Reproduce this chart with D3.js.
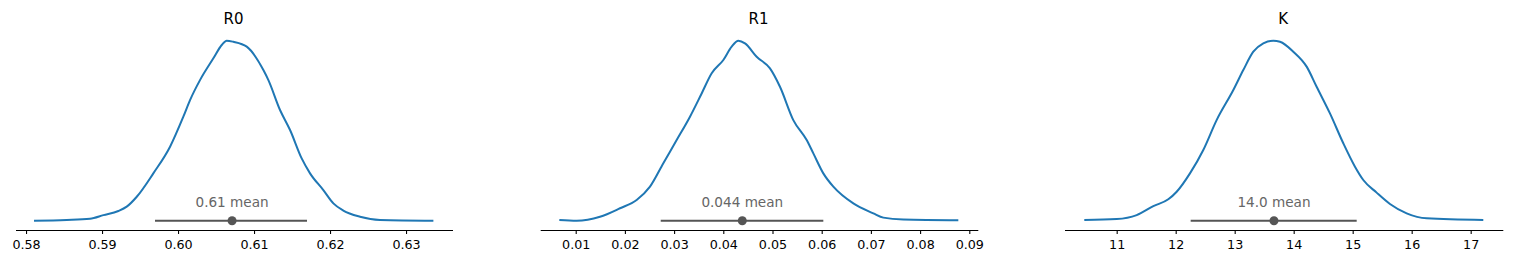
<!DOCTYPE html>
<html>
<head>
<meta charset="utf-8">
<script src="https://cdn.jsdelivr.net/npm/d3@7"></script>
<style>
  body { margin: 0; background: #fff; }
  svg { display: block; font-family: "DejaVu Sans", sans-serif; }
</style>
</head>
<body>
<svg id="chart" width="1513" height="263"></svg>
<script>
// posterior densities (density relative to peak)
var names = ["R0", "R1", "K"];

var r0X = [0.58105, 0.58535, 0.58842, 0.59018, 0.59215, 0.59325, 0.59457, 0.59675, 0.59895, 0.60070,
           0.60158, 0.60289, 0.60465, 0.60575, 0.60640, 0.60728, 0.60904, 0.61123, 0.61189, 0.61342,
           0.61474, 0.61627, 0.61737, 0.61912, 0.62044, 0.62175, 0.62395, 0.62658, 0.63360];
var r0D = [0, 0.004, 0.011, 0.031, 0.054, 0.078, 0.133, 0.263, 0.411, 0.578,
           0.670, 0.781, 0.902, 0.976, 1.0, 0.994, 0.967, 0.837, 0.781, 0.615,
           0.504, 0.346, 0.263, 0.170, 0.096, 0.056, 0.022, 0.004, 0];

var r1X = [0.00667, 0.01020, 0.01494, 0.01900, 0.02239, 0.02510, 0.02781, 0.03052, 0.03323, 0.03560,
           0.03764, 0.04001, 0.04170, 0.04306, 0.04441, 0.04678, 0.04949, 0.05152, 0.05423, 0.05695,
           0.05830, 0.06033, 0.06237, 0.06643, 0.07050, 0.07253, 0.07659, 0.08777];
var r1D = [0.004, 0, 0.022, 0.069, 0.115, 0.189, 0.319, 0.448, 0.578, 0.707,
           0.819, 0.893, 0.967, 1.0, 0.985, 0.911, 0.846, 0.744, 0.559, 0.448,
           0.374, 0.263, 0.189, 0.096, 0.041, 0.017, 0.006, 0.002];

var kX = [10.451, 11.0, 11.339, 11.621, 11.875, 12.017, 12.242, 12.468, 12.694, 12.977,
          13.146, 13.316, 13.485, 13.655, 13.768, 13.994, 14.220, 14.389, 14.615, 14.841,
          15.039, 15.180, 15.406, 15.632, 15.915, 16.254, 17.214];
var kD = [0.004, 0.009, 0.031, 0.081, 0.119, 0.161, 0.263, 0.393, 0.559, 0.726,
          0.837, 0.939, 0.985, 1.0, 0.994, 0.939, 0.856, 0.744, 0.596, 0.430,
          0.300, 0.226, 0.156, 0.093, 0.041, 0.013, 0.004];

var meanVals = [0.60711, 0.04386, 13.666];
var meanLabels = ["0.61 mean", "0.044 mean", "14.0 mean"];
var hdiLow = [0.59697, 0.02728, 12.254];
var hdiHigh = [0.61697, 0.06033, 15.068];

var xDomains = [[0.57868, 0.63618], [0.002886, 0.09183], [10.124, 17.553]];
var tickVals = [
  [0.58, 0.59, 0.60, 0.61, 0.62, 0.63],
  [0.01, 0.02, 0.03, 0.04, 0.05, 0.06, 0.07, 0.08, 0.09],
  [11, 12, 13, 14, 15, 16, 17]
];
var tickFormats = [d3.format(".2f"), d3.format(".2f"), d3.format("d")];

var xs = [r0X, r1X, kX];
var ds = [r0D, r1D, kD];

// layout of the three panels
var panelRanges = [[16, 453], [540.7, 978.3], [1065, 1503.3]];
var axisY = 230;
var baseY = 220.7;
var peakY = 40.7;

var svg = d3.select("#chart");

var y = d3.scaleLinear().domain([0, 1]).range([baseY, peakY]);

for (let i = 0; i < names.length; i++) {
    var x = d3.scaleLinear().domain(xDomains[i]).range(panelRanges[i]);
    var g = svg.append("g");

    var xAxis = d3.axisBottom(x)
        .tickValues(tickVals[i])
        .tickFormat(tickFormats[i])
        .tickSize(4)
        .tickPadding(6);

    var ax = g.append("g")
        .attr("transform", "translate(0," + axisY + ")")
        .call(xAxis);
    ax.select(".domain").attr("stroke", "#000").attr("stroke-width", 1.1)
        .attr("d", "M" + panelRanges[i][0] + ",0.5H" + panelRanges[i][1]);
    ax.selectAll(".tick line").attr("stroke", "#000").attr("stroke-width", 1.1);
    ax.selectAll(".tick text")
        .attr("fill", "#000")
        .style("font-size", "12.7px")
        .style("font-family", "DejaVu Sans, sans-serif");

    // title
    g.append("text")
        .attr("x", (panelRanges[i][0] + panelRanges[i][1]) / 2 - 1)
        .attr("y", 24.3)
        .attr("text-anchor", "middle")
        .style("font-size", "15px")
        .attr("fill", "#000")
        .text(names[i]);

    // density curve
    var pts = xs[i].map(function(v, j) { return [v, ds[i][j]]; });
    var line = d3.line()
        .x(function(d) { return x(d[0]); })
        .y(function(d) { return y(d[1]); })
        .curve(d3.curveMonotoneX);

    g.append("path")
        .datum(pts)
        .attr("d", line)
        .attr("fill", "none")
        .attr("stroke", "#1f77b4")
        .attr("stroke-width", 2);

    // hdi line + mean point
    g.append("line")
        .attr("x1", x(hdiLow[i]))
        .attr("x2", x(hdiHigh[i]))
        .attr("y1", baseY)
        .attr("y2", baseY)
        .attr("stroke", "#555")
        .attr("stroke-width", 2);

    g.append("circle")
        .attr("cx", x(meanVals[i]))
        .attr("cy", baseY)
        .attr("r", 4.5)
        .attr("fill", "#555");

    g.append("text")
        .attr("x", x(meanVals[i]))
        .attr("y", 207)
        .attr("text-anchor", "middle")
        .style("font-size", "13.6px")
        .attr("fill", "#666")
        .text(meanLabels[i]);
}
</script>
</body>
</html>
